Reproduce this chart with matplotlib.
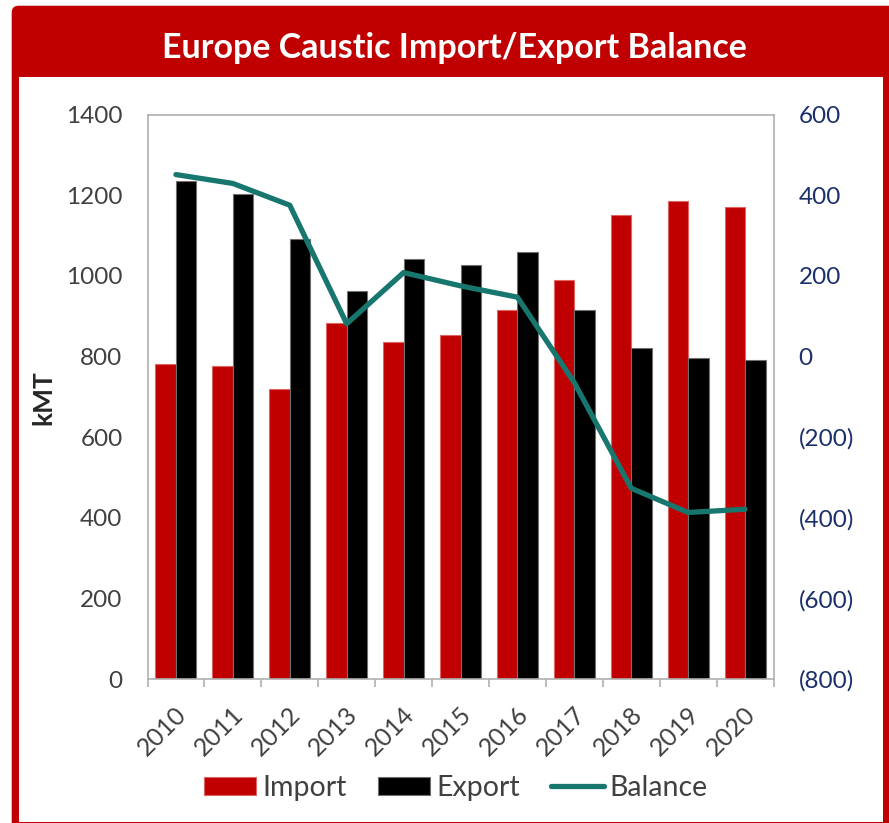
import numpy as np
import matplotlib
matplotlib.use("Agg")
import matplotlib.pyplot as plt
from matplotlib.patches import FancyBboxPatch, Rectangle
from matplotlib.lines import Line2D
from matplotlib.transforms import ScaledTranslation

plt.rcParams['font.family'] = ['Lato', 'DejaVu Sans']

years = ['2010', '2011', '2012', '2013', '2014', '2015', '2016', '2017', '2018', '2019', '2020']
imports = [782, 777, 720, 884, 836, 854, 915, 989, 1151, 1186, 1171]
exports = [1234, 1204, 1092, 963, 1042, 1027, 1059, 915, 820, 796, 790]
balance = [451, 429, 375, 81, 208, 175, 147, -65, -327, -387, -379]
left_ticks = [0, 200, 400, 600, 800, 1000, 1200, 1400]
right_ticks = [-800, -600, -400, -200, 0, 200, 400, 600]
title = 'Europe Caustic Import/Export Balance'

W, H = 889, 823
fig = plt.figure(figsize=(W / 100, H / 100), dpi=100)

def fx(px):
    return px / W

def fy(py):
    return (H - py) / H

# red frame with rounded corner
red = '#c00000'
frame = FancyBboxPatch((fx(11.7), fy(835)), fx(900) - fx(11.7), fy(5.7) - fy(835),
                       boxstyle='round,pad=0,rounding_size=0.008',
                       transform=fig.transFigure, facecolor=red, edgecolor='none',
                       zorder=0)
fig.patches.append(frame)
inner = Rectangle((fx(19.3), fy(821.5)), fx(883.3) - fx(19.3), fy(76.7) - fy(821.5),
                  transform=fig.transFigure, facecolor='white', edgecolor='none', zorder=0.5)
fig.patches.append(inner)

fig.text(fx(454), fy(57.5), title, color='white', fontsize=24.5, fontweight='bold',
         ha='center', va='baseline')

ax = fig.add_axes([fx(147.5), fy(679), fx(773.5) - fx(147.5), fy(114.5) - fy(679)])
ax.set_zorder(2)
ax.patch.set_alpha(0)
x = np.arange(len(years))
bw = 0.36
ax.bar(x - bw / 2, imports, width=bw, color=red, edgecolor='#e06666', linewidth=0.8,
       label='Import', zorder=2)
ax.bar(x + bw / 2, exports, width=bw, color='black', edgecolor='#707070', linewidth=0.8,
       label='Export', zorder=2)
ax.set_xlim(-0.5, len(years) - 0.5)
ax.set_ylim(0, 1400)
ax.set_yticks(left_ticks)
ax.set_yticklabels([str(v) for v in left_ticks])
ax.tick_params(axis='y', length=0, pad=18, labelsize=17.5, labelcolor='#404040')

ax.set_xticks(np.arange(-0.5, len(years), 1))
ax.set_xticklabels([])
ax.set_xticks(x, minor=True)
ax.set_xticklabels(years, minor=True)
ax.tick_params(axis='x', which='major', length=6, width=1.2, color='#b0b0b0')
ax.tick_params(axis='x', which='minor', length=0, pad=23, labelsize=18, labelcolor='#404040')
offset = ScaledTranslation(7 / 100, 0, fig.dpi_scale_trans)
for lab in ax.get_xticklabels(minor=True):
    lab.set_rotation(45)
    lab.set_ha('right')
    lab.set_va('center')
    lab.set_rotation_mode('anchor')
    lab.set_transform(lab.get_transform() + offset)

for s in ax.spines.values():
    s.set_color('#b0b0b0')
    s.set_linewidth(1.2)

ax2 = ax.twinx()
ax2.set_zorder(3)
ax2.plot(x, balance, color='#17766e', linewidth=3.8, solid_capstyle='round',
         solid_joinstyle='round', label='Balance', zorder=3)
ax2.set_ylim(-800, 600)
ax2.set_yticks(right_ticks)
ax2.set_yticklabels([f'({abs(v)})' if v < 0 else str(v) for v in right_ticks])
ax2.tick_params(axis='y', length=0, pad=18, labelsize=17.5, labelcolor='#1a2f6b')
for s in ax2.spines.values():
    s.set_visible(False)

fig.text(fx(43), fy(398), 'kMT', rotation=90, fontsize=19, fontweight='bold',
         color='#262626', ha='center', va='center')

handles = [Rectangle((0, 0), 1, 1, facecolor=red, edgecolor='#e06666', linewidth=0.8),
           Rectangle((0, 0), 1, 1, facecolor='black', edgecolor='#707070', linewidth=0.8),
           Line2D([0], [0], color='#17766e', linewidth=3.8, solid_capstyle='round')]
leg = fig.legend(handles, ['Import', 'Export', 'Balance'], loc='center',
                 bbox_to_anchor=(fx(455.5), fy(788)), ncol=3, frameon=False,
                 fontsize=20.5, handlelength=1.85, handleheight=0.63,
                 handletextpad=0.2, columnspacing=1.1, labelcolor='#404040')

fig.savefig('out.png', dpi=100)
